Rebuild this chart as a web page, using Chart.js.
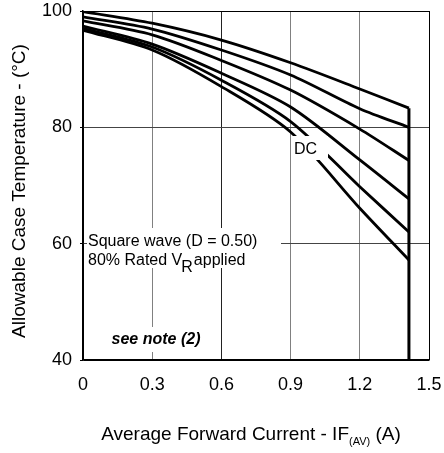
<!DOCTYPE html>
<html>
<head>
<meta charset="utf-8">
<script src="https://cdn.jsdelivr.net/npm/chart.js@4/dist/chart.umd.min.js"></script>
<style>
html,body{margin:0;padding:0;background:#fff;}
#c{display:block;}
</style>
</head>
<body>
<canvas id="c" width="444" height="453"></canvas>
<script>
// ---- data ----
const xValues = [0, 0.3, 0.6, 0.9, 1.2, 1.413];
const curve1 = [99.9, 97.9, 95.0, 91.1, 86.6, 83.3];
const curve2 = [99.0, 96.9, 93.3, 89.0, 83.2, 80.0];
const curve3 = [98.3, 95.9, 91.5, 86.4, 79.7, 74.3];
const curve4 = [97.4, 94.3, 89.3, 83.5, 74.4, 67.7];
const curve5 = [97.0, 93.8, 88.1, 81.0, 69.8, 62.0];
const curve6 = [96.7, 93.3, 87.0, 79.2, 66.1, 57.2];
const limitX = [1.413, 1.413];
const limitY = [83.3, 40];
const xTicks = [0, 0.3, 0.6, 0.9, 1.2, 1.5];
const xTickLabels = ['0', '0.3', '0.6', '0.9', '1.2', '1.5'];
const yTicks = [40, 60, 80, 100];
const yTickLabels = ['40', '60', '80', '100'];

const FONT = '"Liberation Sans", Arial, sans-serif';

function pts(xs, ys) { return xs.map((x, i) => ({x: x, y: ys[i]})); }
const curves = [curve1, curve2, curve3, curve4, curve5, curve6];
const datasets = curves.map(c => ({
  data: pts(xValues, c),
  borderColor: '#000',
  borderWidth: 2.8,
  pointRadius: 0,
  fill: false,
  tension: 0.3
}));
datasets.push({
  data: pts(limitX, limitY),
  borderColor: '#000',
  borderWidth: 3,
  pointRadius: 0,
  fill: false
});

function gridColorX(ctx) {
  const v = ctx.tick ? ctx.tick.value : null;
  if (v === 0 || v === 1.5) return '#000';
  if (Math.abs(v - 0.6) < 1e-6) return '#222';
  return '#808080';
}
function gridColorY(ctx) {
  const v = ctx.tick ? ctx.tick.value : null;
  if (v === 40 || v === 100) return '#000';
  return '#444';
}

const annot = {
  id: 'annot',
  afterDatasetsDraw(chart) {
    const c = chart.ctx;
    c.save();
    c.fillStyle = '#fff';
    c.fillRect(87, 228, 194, 40);
    c.fillRect(110, 327, 94, 25);
    c.fillRect(293, 136, 35, 24);
    c.fillStyle = '#000';
    c.textBaseline = 'alphabetic';
    c.textAlign = 'left';
    c.font = '16px ' + FONT;
    c.fillText('Square wave (D = 0.50)', 88, 246);
    let x = 88;
    const l2 = '80% Rated V';
    c.fillText(l2, x, 265);
    x += c.measureText(l2).width;
    c.fillText('R', x - 1, 272);
    x += c.measureText('R').width;
    c.fillText('applied', x, 265);
    c.font = 'italic bold 16px ' + FONT;
    c.textAlign = 'center';
    c.fillText('see note (2)', 156, 344);
    c.font = '16px ' + FONT;
    c.textAlign = 'left';
    c.fillText('DC', 294, 154);
    c.restore();
  },
  afterDraw(chart) {
    const c = chart.ctx;
    c.save();
    c.fillStyle = '#000';
    c.font = '19px ' + FONT;
    c.translate(25, 191);
    c.rotate(-Math.PI / 2);
    c.textAlign = 'center';
    c.textBaseline = 'alphabetic';
    c.fillText('Allowable Case Temperature - (°C)', 0, 0);
    c.restore();
    c.save();
    c.fillStyle = '#000';
    c.textBaseline = 'alphabetic';
    c.textAlign = 'left';
    const p1 = 'Average Forward Current - IF';
    const p2 = '(AV)';
    const p3 = ' (A)';
    c.font = '19px ' + FONT;
    const w1 = c.measureText(p1).width;
    const w3 = c.measureText(p3).width;
    c.font = '11px ' + FONT;
    const w2 = c.measureText(p2).width;
    const total = w1 + w2 + w3;
    let x = 251 - total / 2;
    const base = 440;
    c.font = '19px ' + FONT;
    c.fillText(p1, x, base);
    x += w1;
    c.font = '11px ' + FONT;
    c.fillText(p2, x, base + 5);
    x += w2;
    c.font = '19px ' + FONT;
    c.fillText(p3, x, base);
    c.restore();
  }
};

new Chart(document.getElementById('c'), {
  type: 'line',
  data: { datasets: datasets },
  options: {
    responsive: false,
    animation: false,
    devicePixelRatio: 1,
    layout: { padding: { top: 11, right: 15, left: 0, bottom: 0 } },
    plugins: { legend: { display: false }, tooltip: { enabled: false } },
    scales: {
      x: {
        type: 'linear',
        min: 0, max: 1.5,
        afterFit(s) { s.height = 93; s.paddingLeft = 0; s.paddingRight = 0; },
        afterBuildTicks(s) { s.ticks = xTicks.map(v => ({value: v})); },
        ticks: {
          font: { size: 18, family: FONT },
          color: '#000',
          padding: 14,
          maxRotation: 0,
          autoSkip: false,
          callback: (v, i) => xTickLabels[i]
        },
        grid: { color: gridColorX, lineWidth: 1, drawTicks: false },
        border: { color: '#000', width: 1.5 }
      },
      y: {
        type: 'linear',
        min: 40, max: 100,
        afterFit(s) { s.width = 83; s.paddingTop = 0; s.paddingBottom = 0; },
        afterBuildTicks(s) { s.ticks = yTicks.map(v => ({value: v})); },
        ticks: {
          font: { size: 18, family: FONT },
          color: '#000',
          padding: 8,
          autoSkip: false,
          callback: (v, i) => yTickLabels[i]
        },
        grid: { color: gridColorY, lineWidth: 1, tickLength: 3, tickColor: '#000' },
        border: { color: '#000', width: 1.5 }
      }
    }
  },
  plugins: [annot]
});
</script>
</body>
</html>
